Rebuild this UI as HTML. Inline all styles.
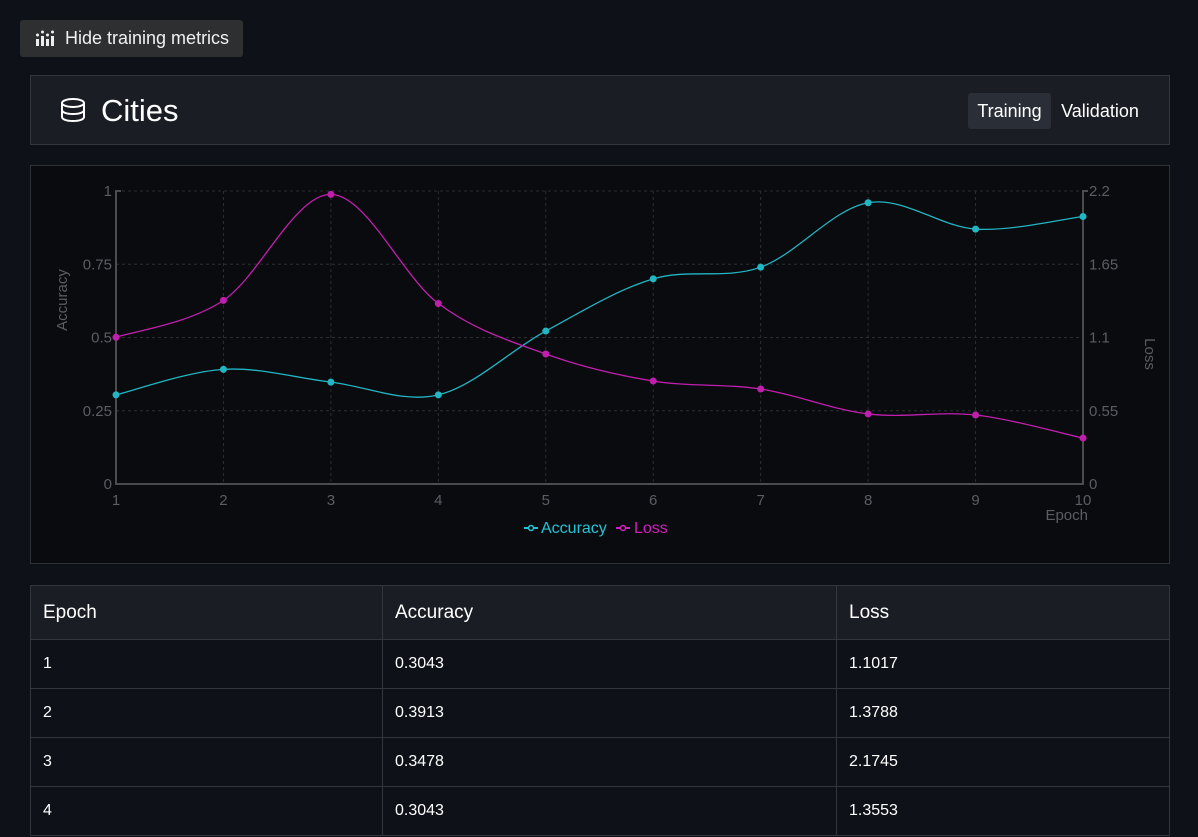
<!DOCTYPE html>
<html><head><meta charset="utf-8"><style>
body{margin:0;width:1198px;height:837px;background:#0e1117;font-family:"Liberation Sans",sans-serif;color:#fff;overflow:hidden;position:relative}
.btn{position:absolute;left:20px;top:20px;width:223px;height:37px;background:#2e2f31;border-radius:3px;font-size:18px;line-height:37px;color:#f0f0f0}
.hdr{position:absolute;left:30px;top:75px;width:1138px;height:68px;background:#1a1d23;border:1px solid #33363c}
.chart{position:absolute;left:30px;top:165px;width:1138px;height:397px;background:#0a0b0e;border:1px solid #2e3136}
table{position:absolute;left:30px;top:585px;width:1140px;border-collapse:collapse;font-size:16px}
td,th{border:1px solid #33363c;text-align:left;font-weight:normal;padding:0 12px}
th{background:#1a1d23;height:53px;font-size:19px}
td{height:48px;background:#0e1117}
</style></head><body>
<div class="btn">
<svg style="position:absolute;left:15px;top:10px" width="20" height="18"><g fill="#eee"><rect x="1" y="9" width="3" height="7"/><rect x="6" y="6" width="3" height="10"/><rect x="11" y="9" width="3" height="7"/><rect x="16" y="6" width="3" height="10"/><circle cx="2.5" cy="5" r="1.5"/><circle cx="7.5" cy="2" r="1.5"/><circle cx="12.5" cy="5" r="1.5"/><circle cx="17.5" cy="2" r="1.5"/></g></svg>
<span style="position:absolute;left:45px">Hide training metrics</span></div>
<div class="hdr">
<svg style="position:absolute;left:30px;top:22px" width="26" height="24"><g fill="none" stroke="#fff" stroke-width="2"><ellipse cx="12" cy="5" rx="11" ry="4"/><path d="M1 5v14c0 2.5 5 4 11 4s11-1.5 11-4V5M1 12c0 2.5 5 4 11 4s11-1.5 11-4"/></g></svg>
<span style="position:absolute;left:70px;top:17px;font-size:31px">Cities</span>
<div style="position:absolute;left:937px;top:17px;width:83px;height:36px;background:#2a2e36;border-radius:3px;font-size:18px;line-height:36px;text-align:center">Training</div>
<div style="position:absolute;left:1020px;top:17px;width:98px;height:36px;font-size:18px;line-height:36px;text-align:center">Validation</div>
</div>
<div class="chart"></div>
<svg id="svg" style="position:absolute;left:0;top:0" width="1198" height="837"></svg>
<table>
<tr><th style="width:327px">Epoch</th><th style="width:429px">Accuracy</th><th>Loss</th></tr>
<tr><td>1</td><td>0.3043</td><td>1.1017</td></tr>
<tr><td>2</td><td>0.3913</td><td>1.3788</td></tr>
<tr><td>3</td><td>0.3478</td><td>2.1745</td></tr>
<tr><td>4</td><td>0.3043</td><td>1.3553</td></tr>
</table>
<script>
const epochs=[1,2,3,4,5,6,7,8,9,10];
const accuracy=[0.3043,0.3913,0.3478,0.3043,0.522,0.70,0.74,0.96,0.87,0.913];
const loss=[1.1017,1.3788,2.1745,1.3553,0.976,0.773,0.713,0.526,0.518,0.345];
const accTicks=["0","0.25","0.5","0.75","1"];
const lossTicks=["0","0.55","1.1","1.65","2.2"];
const svg=document.getElementById('svg');const NS='http://www.w3.org/2000/svg';
const X0=116,X1=1083,Y0=484,Y1=191;
const sx=e=>X0+(e-1)/(9)*(X1-X0);
const sa=v=>Y0-v*(Y0-Y1);
const sl=v=>Y0-v/2.2*(Y0-Y1);
function mk(t,a,name){const e=document.createElementNS(NS,t);for(const k in a)e.setAttribute(k,a[k]);


svg.appendChild(e);return e;}
function txt(x,y,s,a,name){const e=mk('text',Object.assign({x:x,y:y,fill:'#5a5d63','font-size':15,'font-family':'Liberation Sans, sans-serif'},a),name);e.textContent=s;return e;}
epochs.forEach(e=>{mk('line',{x1:sx(e),x2:sx(e),y1:Y1,y2:Y0,stroke:'#2c2e33','stroke-dasharray':'3,3'},'grid-x');
txt(sx(e),Y0+21,String(e),{'text-anchor':'middle'},'x-tick-label');});
accTicks.forEach((t,i)=>{const y=sa(i/4);mk('line',{x1:X0,x2:X1,y1:y,y2:y,stroke:'#2c2e33','stroke-dasharray':'3,3'},'grid-y');
txt(X0-4,y+5,t,{'text-anchor':'end'},'left-tick-label');
txt(X1+6,y+5,lossTicks[i],{},'right-tick-label');});
mk('path',{d:`M${X0+5} ${Y1}H${X0}V${Y0}H${X1}V${Y1}H${X1+5}`,fill:'none',stroke:'#4a4c50','stroke-width':2},'axes');
txt(67,300,'Accuracy',{'text-anchor':'middle',transform:'rotate(-90 67 300)'},'y-axis-title');
txt(1145,354,'Loss',{'text-anchor':'middle',transform:'rotate(90 1145 354)'},'y2-axis-title');
txt(1088,520,'Epoch',{'text-anchor':'end'},'x-axis-title');
function curve(vals,sy,col,name){const p=vals.map((v,i)=>[sx(epochs[i]),sy(v)]);let d=`M${p[0][0]} ${p[0][1]}`;
for(let i=0;i<p.length-1;i++){const a=p[i-1]||p[i],b=p[i],c=p[i+1],n=p[i+2]||c;
d+=`C${b[0]+(c[0]-a[0])/6} ${b[1]+(c[1]-a[1])/6} ${c[0]-(n[0]-b[0])/6} ${c[1]-(n[1]-b[1])/6} ${c[0]} ${c[1]}`;}
mk('path',{d:d,fill:'none',stroke:col,'stroke-width':1.3},name+'-line');
p.forEach(q=>mk('circle',{cx:q[0],cy:q[1],r:3.5,fill:col},name+'-point'));}
curve(accuracy,sa,'#22b5c4','accuracy');
curve(loss,sl,'#c01fae','loss');
mk('line',{x1:524,x2:538,y1:528,y2:528,stroke:'#22c5d6','stroke-width':2},'legend-accuracy-marker');
mk('circle',{cx:531,cy:528,r:2.5,fill:'#0a0b0e',stroke:'#22c5d6','stroke-width':1.5},'legend-accuracy-dot');
txt(541,533,'Accuracy',{fill:'#22c5d6','font-size':16},'legend-accuracy');
mk('line',{x1:616,x2:630,y1:528,y2:528,stroke:'#d21fbd','stroke-width':2},'legend-loss-marker');
mk('circle',{cx:623,cy:528,r:2.5,fill:'#0a0b0e',stroke:'#d21fbd','stroke-width':1.5},'legend-loss-dot');
txt(634,533,'Loss',{fill:'#d21fbd','font-size':16},'legend-loss');
</script>
</body></html>
